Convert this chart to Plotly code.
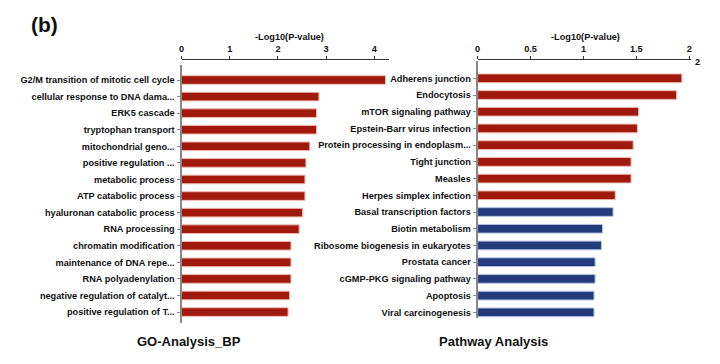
import plotly.graph_objects as go

W, H = 720, 364

go_terms = [
    "G2/M transition of mitotic cell cycle",
    "cellular response to DNA dama...",
    "ERK5 cascade",
    "tryptophan transport",
    "mitochondrial geno...",
    "positive regulation ...",
    "metabolic process",
    "ATP catabolic process",
    "hyaluronan catabolic process",
    "RNA processing",
    "chromatin modification",
    "maintenance of DNA repe...",
    "RNA polyadenylation",
    "negative regulation of catalyt...",
    "positive regulation of T...",
]
go_values = [4.23, 2.85, 2.80, 2.80, 2.66, 2.58, 2.56, 2.56, 2.51, 2.44,
             2.27, 2.27, 2.27, 2.24, 2.21]

pathways = [
    "Adherens junction",
    "Endocytosis",
    "mTOR signaling pathway",
    "Epstein-Barr virus infection",
    "Protein processing in endoplasm...",
    "Tight junction",
    "Measles",
    "Herpes simplex infection",
    "Basal transcription factors",
    "Biotin metabolism",
    "Ribosome biogenesis in eukaryotes",
    "Prostata cancer",
    "cGMP-PKG signaling pathway",
    "Apoptosis",
    "Viral carcinogenesis",
]
pathway_values = [1.93, 1.88, 1.52, 1.51, 1.47, 1.45, 1.45, 1.30, 1.28,
                  1.18, 1.17, 1.11, 1.11, 1.10, 1.10]
pathway_groups = ["up"] * 8 + ["down"] * 7

go_ticks = [0, 1, 2, 3, 4]
pw_ticks = [0, 0.5, 1, 1.5, 2]

RED = "#a0190c"
RED_EDGE = "#f0b8ae"
BLUE = "#243b7b"
BLUE_EDGE = "#b5c3e6"

FONT = "Liberation Sans, Arial, sans-serif"

def px(x):
    return x / W

def py(y):
    return 1 - y / H

fig = go.Figure()

fig.add_trace(go.Bar(
    x=go_values, y=go_terms, orientation="h",
    marker=dict(color=RED, line=dict(color=RED_EDGE, width=1)),
    width=0.52, xaxis="x", yaxis="y", showlegend=False,
))

pw_colors = [RED if g == "up" else BLUE for g in pathway_groups]
pw_edges = [RED_EDGE if g == "up" else BLUE_EDGE for g in pathway_groups]
fig.add_trace(go.Bar(
    x=pathway_values, y=pathways, orientation="h",
    marker=dict(color=pw_colors, line=dict(color=pw_edges, width=1)),
    width=0.52, xaxis="x2", yaxis="y2", showlegend=False,
))

tickfont = dict(family=FONT, size=9.2, color="#111", weight="bold")

xcommon = dict(side="top", showgrid=False, zeroline=False, showline=True,
               linecolor="#333", linewidth=1, ticks="outside", ticklen=3,
               tickcolor="#333", tickfont=tickfont, anchor="free")
ycommon = dict(showgrid=False, zeroline=False, showline=True, linecolor="#888",
               linewidth=2, ticks="outside", ticklen=3, tickcolor="#888",
               tickfont=tickfont, type="category")

fig.update_layout(
    width=W, height=H,
    margin=dict(l=0, r=0, t=0, b=0),
    paper_bgcolor="white", plot_bgcolor="white",
    bargap=0.48,
    xaxis=dict(domain=[px(179.5), px(388)], range=[0, 4.30],
               tickvals=go_ticks, ticktext=[str(t) for t in go_ticks],
               position=py(59), **xcommon),
    yaxis=dict(domain=[py(323), py(65)], range=[14.66, -0.905],
               categoryorder="array", categoryarray=go_terms,
               anchor="x", **ycommon),
    xaxis2=dict(domain=[px(477.3), px(692)], range=[0, 2.018],
                tickvals=pw_ticks, ticktext=["0", "0.5", "1", "1.5", "2"],
                position=py(59), **xcommon),
    yaxis2=dict(domain=[py(318), py(61)], range=[14.34, -1.035],
                categoryorder="array", categoryarray=pathways,
                anchor="x2", **ycommon),
)

ann_font = dict(family=FONT, size=9.2, color="#111", weight="bold")
annotations = [
    dict(text="-Log10(P-value)", x=px(288), y=py(37), font=ann_font),
    dict(text="-Log10(P-value)", x=px(585.7), y=py(37), font=ann_font),
    dict(text="2", x=px(698.5), y=py(62), font=ann_font),
    dict(text="GO-Analysis_BP", x=px(187), y=py(341),
         font=dict(family=FONT, size=13, color="#111", weight="bold")),
    dict(text="Pathway Analysis", x=px(493), y=py(341),
         font=dict(family=FONT, size=13, color="#111", weight="bold")),
    dict(text="(b)", x=px(42), y=py(25),
         font=dict(family=FONT, size=21, color="#111", weight="bold")),
]
for a in annotations:
    fig.add_annotation(xref="paper", yref="paper", showarrow=False,
                       xanchor="center", yanchor="middle", **a)

fig.write_html(
    "out.html",
    config={"displayModeBar": False},
    post_script="document.body.style.margin='0px';document.body.style.padding='0px';",
)
